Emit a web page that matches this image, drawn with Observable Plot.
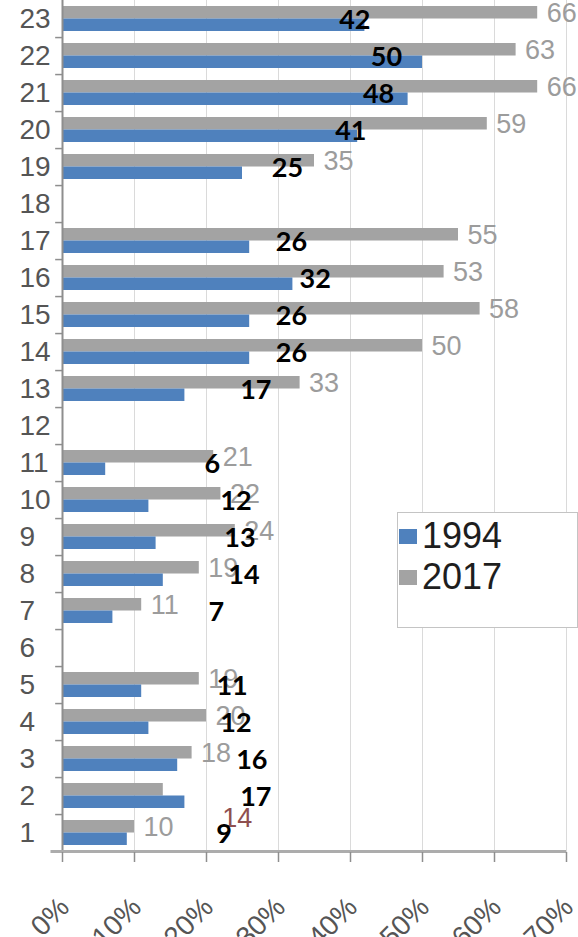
<!DOCTYPE html>
<html>
<head>
<meta charset="utf-8">
<script src="https://cdn.jsdelivr.net/npm/d3@7"></script>
<script src="https://cdn.jsdelivr.net/npm/@observablehq/plot@0.6"></script>
<style>
  html, body { margin: 0; padding: 0; overflow: hidden; background: #fff; }
  #wrap { position: relative; width: 578px; height: 937px; overflow: hidden; }
  #wrap svg { display: block; }
  #legend {
    position: absolute; left: 397px; top: 512px; width: 181px; height: 116px;
    box-sizing: border-box; border: 1px solid #c4c4c4; background: #fff;
    font-family: "Liberation Sans", Arial, sans-serif; font-size: 36px; color: #1e1e1e;
  }
  #legend .item { position: absolute; left: 0; height: 40px; line-height: 40px; white-space: nowrap; }
  #legend .sw { position: absolute; left: 1px; top: 13px; width: 18px; height: 15px; }
  #legend .lb { position: absolute; left: 24px; top: 0; }
</style>
</head>
<body>
<div id="wrap"><div id="legend"></div></div>
<script>
// ---- data ----
const categories = ["1","2","3","4","5","6","7","8","9","10","11","12","13","14","15","16","17","18","19","20","21","22","23"];
const values1994 = [9, 17, 16, 12, 11, null, 7, 14, 13, 12, 6, null, 17, 26, 26, 32, 26, null, 25, 41, 48, 50, 42];
const values2017 = [10, 14, 18, 20, 19, null, 11, 19, 24, 22, 21, null, 33, 50, 58, 53, 55, null, 35, 59, 66, 63, 66];
const xTicks = [0, 10, 20, 30, 40, 50, 60, 70];
const xTickLabels = ["0%", "10%", "20%", "30%", "40%", "50%", "60%", "70%"];
const seriesNames = ["1994", "2017"];

// ---- styling ----
const blue = "#4f81bd";
const gray = "#a3a3a3";
const grayLabel = "#9c9c9c";
const oddLabel = "#8f4f4f";   // the one reddish 2017 label (category 2)
const oddCategory = "2";

const rows = categories.map((c, i) => ({cat: c, v1994: values1994[i], v2017: values2017[i]}));
const rows1994 = rows.filter(d => d.v1994 != null);
const rows2017 = rows.filter(d => d.v2017 != null);

const W = 578, H = 937;
const mTop = -2, mBottom = 85, mLeft = 62, mRight = 12;
const n = categories.length;
const step = (H - mBottom - mTop) / n;
const padInner = 0.327;
const bw = step * (1 - padInner);

const chart = Plot.plot({
  width: W,
  height: H,
  marginTop: mTop,
  marginBottom: mBottom,
  marginLeft: mLeft,
  marginRight: mRight,
  style: {fontFamily: "'Liberation Sans', Arial, sans-serif", background: "transparent", overflow: "visible"},
  x: {domain: [0, 70], label: null},
  y: {domain: categories.slice().reverse(), paddingInner: padInner, paddingOuter: padInner / 2, label: null},
  marks: [
    // gridlines
    Plot.ruleX(xTicks.slice(1), {stroke: "#dadada", strokeWidth: 1}),
    // bars
    Plot.barX(rows2017, {x: "v2017", y: "cat", fill: gray, insetBottom: bw / 2}),
    Plot.barX(rows1994, {x: "v1994", y: "cat", fill: blue, insetTop: bw / 2}),
    // y axis line and ticks at category boundaries
    Plot.ruleX([0], {stroke: "#8e8e8e", strokeWidth: 2}),
    Plot.ruleY(categories, {y: d => d, x1: -0.95, x2: 0, dy: step / 2, stroke: "#8e8e8e", strokeWidth: 1.5}),
    // x axis line
    Plot.ruleY([categories[0]], {y: d => d, x1: -1.6, x2: 70, dy: step / 2, stroke: "#acacac", strokeWidth: 3}),
    // x axis ticks
    Plot.axisX({ticks: xTicks, tickSize: 10, tickFormat: () => "", stroke: "#8e8e8e", strokeWidth: 1.5, label: null}),
    // x axis labels, rotated
    Plot.text(xTicks, {
      x: d => d, text: (d, i) => xTickLabels[i], frameAnchor: "bottom",
      dx: 2, dy: 50, rotate: -45, textAnchor: "end", lineAnchor: "middle",
      fontSize: 28, fill: "#555"
    }),
    // y axis labels
    Plot.axisY({tickSize: 0, tickPadding: 43, textAnchor: "start", fontSize: 28, fill: "#555", label: null}),
    // 2017 value labels
    Plot.text(rows2017.filter(d => d.cat !== oddCategory), {
      x: "v2017", y: "cat", text: d => String(d.v2017),
      dx: 9, dy: -bw / 4 + 1, textAnchor: "start", fontSize: 27, fill: grayLabel
    }),
    Plot.text(rows2017.filter(d => d.cat === oddCategory), {
      x: "v2017", y: "cat", text: d => String(d.v2017),
      dx: 59, dy: 22, textAnchor: "start", fontSize: 27, fill: oddLabel
    }),
    // 1994 value labels (bold, black)
    Plot.text(rows1994, {
      x: d => 17.5 + 0.55 * d.v1994, y: "cat", text: d => String(d.v1994),
      dy: 1, textAnchor: "middle", fontSize: 27, fontWeight: "bold",
      fontFamily: "Lato, 'Open Sans', sans-serif", fill: "#000"
    })
  ]
});

const wrap = document.getElementById("wrap");
wrap.insertBefore(chart, wrap.firstChild);

// legend
const legend = document.getElementById("legend");
const legendColors = [blue, gray];
seriesNames.forEach((name, i) => {
  const item = document.createElement("div");
  item.className = "item";
  item.style.top = (i === 0 ? 3 : 44) + "px";
  const sw = document.createElement("div");
  sw.className = "sw";
  sw.style.background = legendColors[i];
  const lb = document.createElement("div");
  lb.className = "lb";
  lb.textContent = name;
  item.appendChild(sw);
  item.appendChild(lb);
  legend.appendChild(item);
});
</script>
</body>
</html>
